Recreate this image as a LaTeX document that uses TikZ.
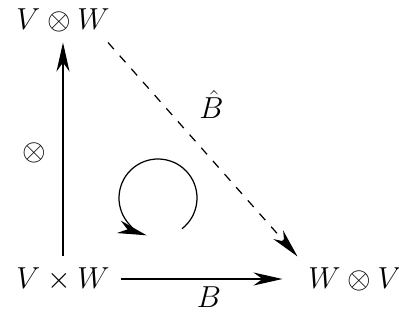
\documentclass[tikz,border=0pt]{standalone}
\usepackage{amsmath}
\usetikzlibrary{arrows.meta, positioning}

\begin{document}
\begin{tikzpicture}[
    font=\fontsize{19}{23}\selectfont,
    obj/.style={inner sep=6pt},
    arrow/.style={line width=0.7pt, -{Stealth[length=5.8mm, width=2.6mm, inset=1.8mm]}}
]
\useasboundingbox (0,0) rectangle (7.98,6.44);

\node[obj] (VW) at (1.26,6.04) {$V \otimes W$};
\node[obj] (VxW) at (1.26,0.86) {$V \times W$};
\node[obj] (WV) at (7.10,0.86) {$W \otimes V$};

\draw[arrow] (VxW) -- node[left=0.2cm, yshift=-2pt]{$\otimes$} (VW);
\draw[arrow, shorten >=0.3cm] (VxW) -- node[below=1pt]{$B$} (WV);
\draw[arrow, dash pattern=on 5pt off 5pt] ([xshift=-0.25cm]VW.south east) -- node[pos=0.29, right=0.6cm]{$\hat{B}$} (WV.north west);

% rotation sign
\coordinate (loop) at (3.16,2.48);
\draw[arrow] (loop) ++(-52:0.78) arc[start angle=-52, end angle=253, radius=0.78];

\end{tikzpicture}
\end{document}
